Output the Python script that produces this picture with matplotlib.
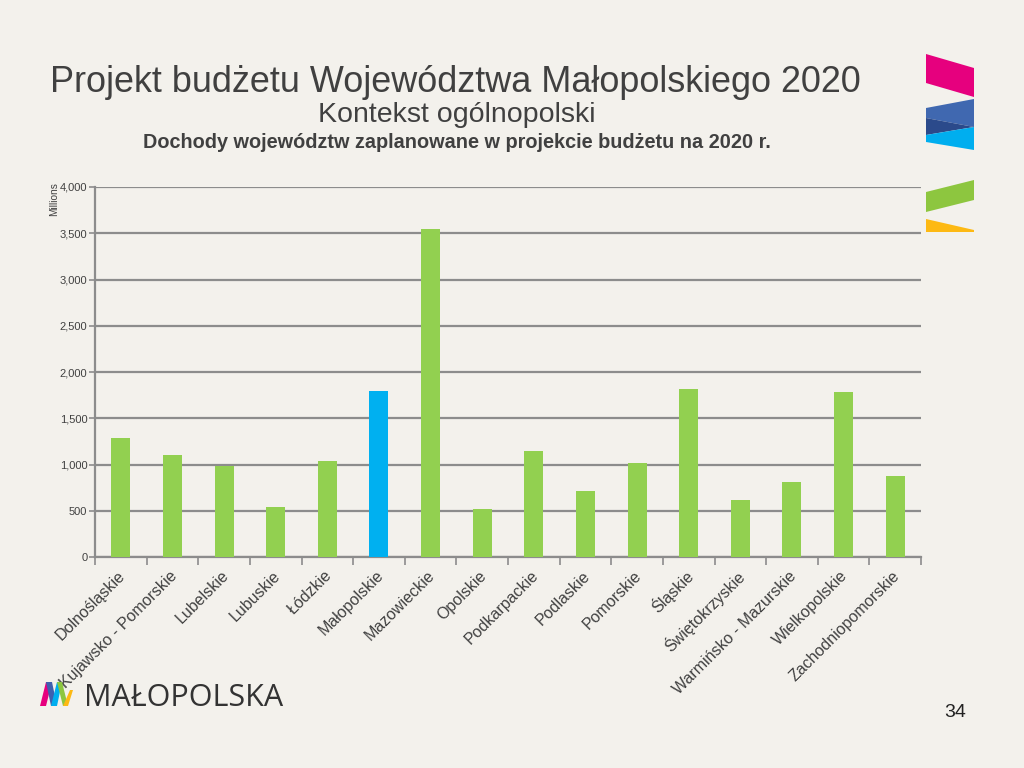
import matplotlib
matplotlib.use("Agg")
import matplotlib.pyplot as plt
from matplotlib.patches import Polygon
from matplotlib.ticker import FuncFormatter

plt.rcParams['font.family'] = ['Liberation Sans', 'DejaVu Sans']

categories = ["Dolnośląskie", "Kujawsko - Pomorskie", "Lubelskie", "Lubuskie",
              "Łódzkie", "Małopolskie", "Mazowieckie", "Opolskie", "Podkarpackie",
              "Podlaskie", "Pomorskie", "Śląskie", "Świętokrzyskie",
              "Warmińsko - Mazurskie", "Wielkopolskie", "Zachodniopomorskie"]
values = [1285, 1101, 986, 541, 1040, 1794, 3549, 516, 1148, 711, 1014, 1816,
          614, 809, 1787, 874]
highlight = "Małopolskie"
yticks = [0, 500, 1000, 1500, 2000, 2500, 3000, 3500, 4000]

W, H = 1024, 768
BG = "#F3F1EC"
GREEN = "#92D050"
BLUE = "#00B0F0"
GRID = "#8C8C8C"
TXT = "#404040"

fig = plt.figure(figsize=(W / 100, H / 100), dpi=100, facecolor=BG)

def fx(x):
    return x / W

def fy(y):
    return 1 - y / H

left, right, top, bottom = 95, 921, 187, 557
ax = fig.add_axes([fx(left), fy(bottom), fx(right) - fx(left), fy(top) - fy(bottom)])
ax.set_facecolor("none")

xs = list(range(len(categories)))
colors = [BLUE if c == highlight else GREEN for c in categories]
ax.bar(xs, values, width=0.37, color=colors, zorder=3)

ax.set_xlim(-0.5, len(categories) - 0.5)
ax.set_ylim(0, 4000)
ax.set_yticks(yticks)
ax.yaxis.set_major_formatter(FuncFormatter(lambda v, p: f"{int(v):,}"))
ax.yaxis.grid(True, color=GRID, linewidth=1.6, zorder=0)
ax.set_axisbelow(True)

for s in ["top", "right"]:
    ax.spines[s].set_visible(False)
for s in ["left", "bottom"]:
    ax.spines[s].set_color(GRID)
    ax.spines[s].set_linewidth(1.6)

ax.tick_params(axis="y", length=4, width=1.2, color=GRID, labelsize=8,
               labelcolor=TXT, pad=1.5)
# x ticks between categories
ax.set_xticks([i + 0.5 for i in range(-1, len(categories))], minor=True)
ax.set_xticks(xs)
ax.tick_params(axis="x", which="major", length=0, pad=6)
ax.tick_params(axis="x", which="minor", length=6, width=1.2, color=GRID)
ax.set_xticklabels(categories, rotation=45, ha="right", va="center",
                   rotation_mode="anchor", fontsize=11.5, color=TXT)
for lbl in ax.get_xticklabels():
    lbl.set_transform(lbl.get_transform() +
                      matplotlib.transforms.ScaledTranslation(2 / 100, -8 / 100, fig.dpi_scale_trans))

fig.text(fx(54), fy(199), "Millions", rotation=90, ha="center", va="center",
         fontsize=7.3, color=TXT)

# Titles
fig.text(fx(50), fy(92), "Projekt budżetu Województwa Małopolskiego 2020",
         ha="left", va="baseline", fontsize=25.9, color=TXT)
fig.text(fx(457), fy(122), "Kontekst ogólnopolski", ha="center", va="baseline",
         fontsize=20.5, color=TXT)
fig.text(fx(457), fy(148), "Dochody województw zaplanowane w projekcie budżetu na 2020 r.",
         ha="center", va="baseline", fontsize=14.3, fontweight="bold", color=TXT)

fig.text(fx(955), fy(717), "34", ha="center", va="baseline", fontsize=14, color="#222222")

def poly(pts, color):
    fig.add_artist(Polygon([(fx(x), fy(y)) for x, y in pts], closed=True,
                           facecolor=color, edgecolor="none",
                           transform=fig.transFigure))

# top-right decorative shapes
poly([(926, 54), (974, 68), (974, 97), (926, 83)], "#E6007E")
poly([(926, 108), (974, 99), (974, 127), (926, 118)], "#4068B0")
poly([(926, 118), (974, 127), (926, 135)], "#2B4A8B")
poly([(926, 135), (974, 127), (974, 150), (926, 142)], "#00AEEF")
poly([(926, 192), (974, 180), (974, 200), (926, 212)], "#8DC63F")
poly([(926, 219), (974, 230), (974, 232), (926, 232)], "#FDB913")

# logo "M"
poly([(40, 706), (46, 682), (52, 682), (46, 706)], "#E6007E")
poly([(46, 682), (52, 682), (57, 706), (51, 706)], "#3F5FAF")
poly([(51, 706), (57, 706), (62, 682), (57, 682)], "#00AEEF")
poly([(57, 682), (62, 682), (68, 706), (63, 706)], "#8DC63F")
poly([(63, 706), (68, 706), (73, 690), (70, 690)], "#FDB913")
fig.text(fx(84), fy(706), "MAŁOPOLSKA", ha="left", va="baseline",
         fontsize=22, color="#333333", family=["Open Sans", "DejaVu Sans"])

fig.savefig("out.png", dpi=100, facecolor=BG)
